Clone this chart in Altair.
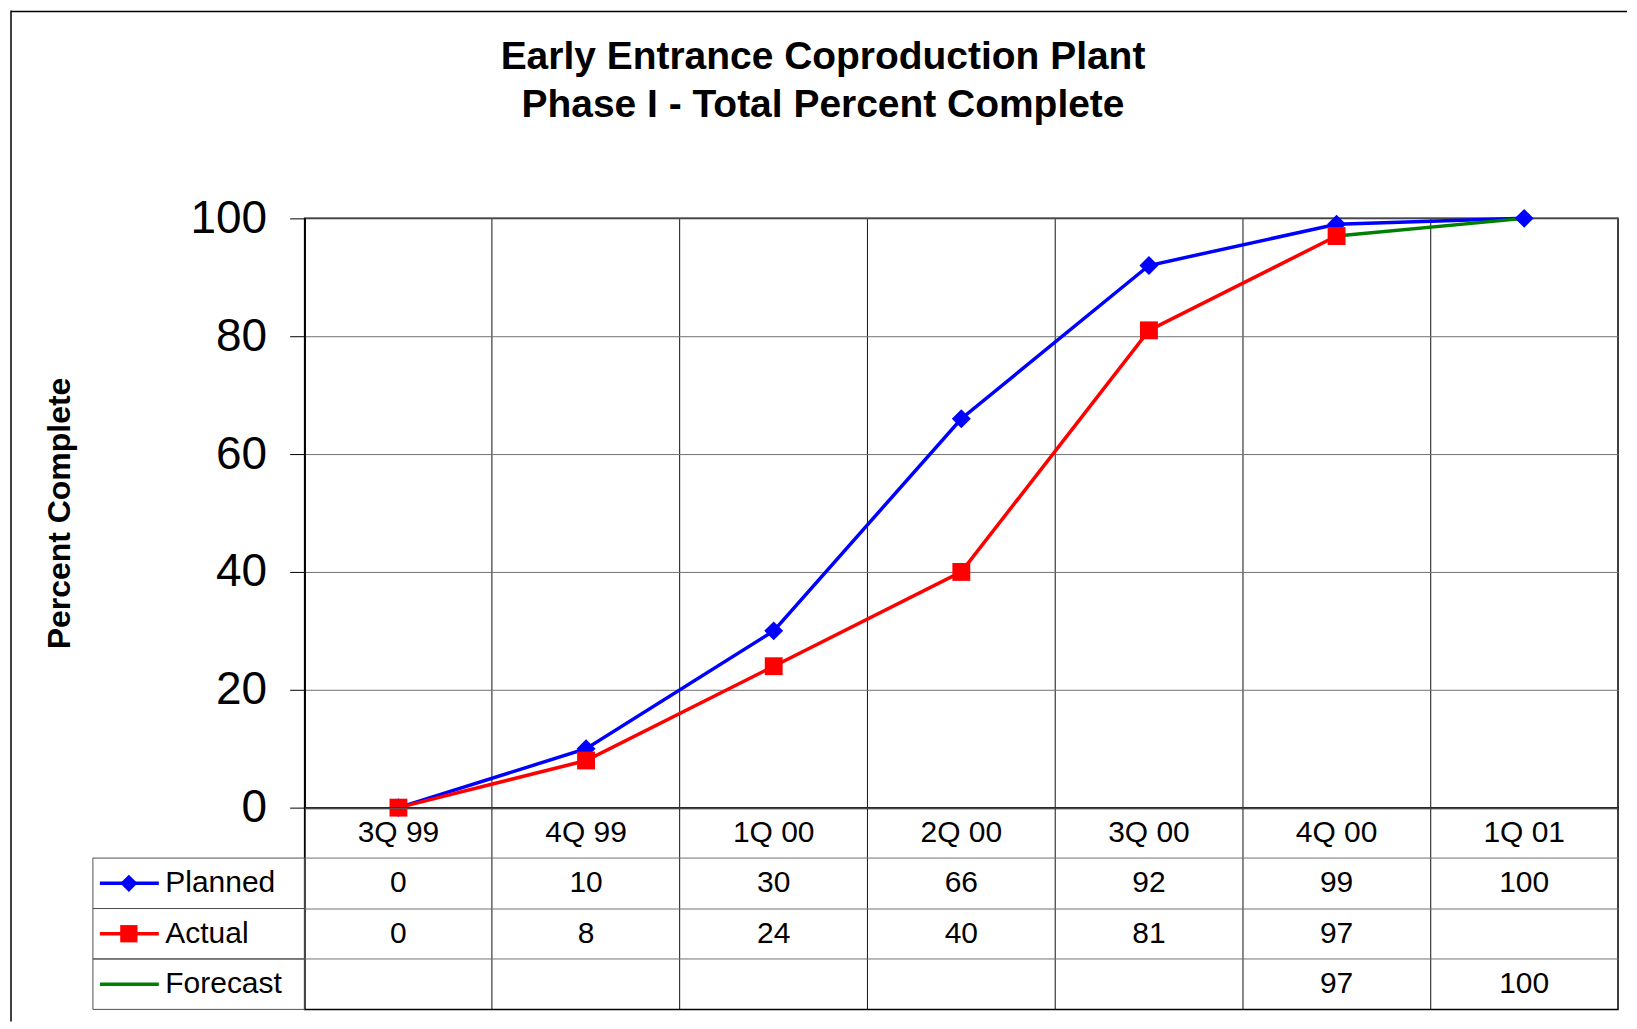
import altair as alt
import pandas as pd

categories = ["3Q 99", "4Q 99", "1Q 00", "2Q 00", "3Q 00", "4Q 00", "1Q 01"]
planned = [0, 10, 30, 66, 92, 99, 100]
actual = [0, 8, 24, 40, 81, 97, None]
forecast = [None, None, None, None, None, 97, 100]
series_names = ["Planned", "Actual", "Forecast"]
series_colors = ["#0000FF", "#FF0000", "#008000"]
series_shapes = ["diamond", "square"]
y_ticks = [0, 20, 40, 60, 80, 100]
title_lines = ["Early Entrance Coproduction Plant", "Phase I - Total Percent Complete"]
y_title = "Percent Complete"

FONT = "Liberation Sans"

rows = []
for name, vals in zip(series_names, [planned, actual, forecast]):
    for c, v in zip(categories, vals):
        if v is not None:
            rows.append({"series": name, "quarter": c, "value": v})
df = pd.DataFrame(rows)

table_rows = []
for c in categories:
    table_rows.append({"row": "header", "quarter": c, "label": c})
for name, vals in zip(series_names, [planned, actual, forecast]):
    for c, v in zip(categories, vals):
        table_rows.append({"row": name, "quarter": c, "label": "" if v is None else str(v)})
tdf = pd.DataFrame(table_rows)
row_domain = ["header"] + series_names
legend_df = pd.DataFrame({"row": series_names})

W, H = 1315, 590
ROW_H = 202

color_scale = alt.Scale(domain=series_names, range=series_colors)
x_scale = alt.Scale(type="band", domain=categories, paddingInner=0, paddingOuter=0)
row_scale = alt.Scale(type="band", domain=row_domain, paddingInner=0, paddingOuter=0)

x_main = alt.X(
    "quarter:N", scale=x_scale, bandPosition=0.5,
    axis=alt.Axis(labels=False, ticks=False, title=None, grid=True, gridColor="#111111",
                  gridWidth=1, bandPosition=0, domainColor="black", domainWidth=2),
)
y_main = alt.Y(
    "value:Q", scale=alt.Scale(domain=[0, 100]),
    axis=alt.Axis(values=y_ticks, labelFontSize=46, labelFont=FONT, labelColor="black",
                  tickSize=15, tickColor="black", labelPadding=23, gridColor="#707070",
                  domainColor="black", domainWidth=1.5, title=y_title, titleFont=FONT,
                  titleFontSize=32, titleFontWeight="bold", titleColor="black",
                  titlePadding=114),
)

base = alt.Chart(df).encode(
    x=x_main, y=y_main,
    color=alt.Color("series:N", scale=color_scale, legend=None),
)
lines = base.mark_line(strokeWidth=3.5)
diamonds = base.transform_filter(alt.datum.series == "Planned").mark_point(
    shape="diamond", filled=True, size=360, opacity=1)
squares = base.transform_filter(alt.datum.series == "Actual").mark_point(
    shape="square", filled=True, size=320, opacity=1)

# outer frame of the figure (left and top edges)
frame_df = pd.DataFrame({"edge": ["left", "top"]})
frame_left = alt.Chart(frame_df).transform_filter(alt.datum.edge == "left").mark_rule(
    color="black", strokeWidth=1.5, clip=False).encode(
    x=alt.value(-294), y=alt.value(-208), y2=alt.value(804))
frame_top = alt.Chart(frame_df).transform_filter(alt.datum.edge == "top").mark_rule(
    color="black", strokeWidth=1.5, clip=False).encode(
    x=alt.value(-294), x2=alt.value(1324), y=alt.value(-207))

main = alt.layer(lines, diamonds, squares, frame_left, frame_top).properties(width=W, height=H)

x_tab = alt.X(
    "quarter:N", scale=x_scale, bandPosition=0.5,
    axis=alt.Axis(labels=False, ticks=False, title=None, domain=False, grid=True,
                  gridColor="#111111", bandPosition=0),
)
y_tab = alt.Y(
    "row:N", scale=row_scale, bandPosition=0.5,
    axis=alt.Axis(title=None, ticks=False, domain=False, grid=True, gridColor="#707070",
                  bandPosition=0, labelAlign="left", labelPadding=140,
                  labelFontSize=30, labelFont=FONT, labelColor="black", labelBaseline="middle",
                  labelExpr="datum.value == 'header' ? '' : datum.value"),
)
texts = alt.Chart(tdf).mark_text(fontSize=30, font=FONT, color="black").encode(
    x=x_tab, y=y_tab, text="label:N")

y_leg = alt.Y("row:N", scale=row_scale, bandPosition=0.5)
leg_cells = alt.Chart(legend_df).mark_rect(fillOpacity=0, stroke="#505050", strokeWidth=1,
                                           clip=False).encode(
    y=alt.Y("row:N", scale=row_scale), x=alt.value(-212), x2=alt.value(0))
leg_lines = alt.Chart(legend_df).mark_rule(strokeWidth=3.5, clip=False).encode(
    y=y_leg, x=alt.value(-205), x2=alt.value(-146),
    color=alt.Color("row:N", scale=color_scale, legend=None))
leg_marks = alt.Chart(legend_df).transform_filter(
    alt.FieldOneOfPredicate(field="row", oneOf=series_names[:2])
).mark_point(filled=True, size=300, opacity=1, clip=False).encode(
    y=y_leg, x=alt.value(-176),
    color=alt.Color("row:N", scale=color_scale, legend=None),
    shape=alt.Shape("row:N", scale=alt.Scale(domain=series_names[:2], range=series_shapes),
                    legend=None))

table = alt.layer(texts, leg_cells, leg_lines, leg_marks).properties(width=W, height=ROW_H)

chart = alt.vconcat(main, table, spacing=0, bounds="flush").properties(
    title=alt.TitleParams(title_lines, fontSize=39, font=FONT, fontWeight="bold",
                          anchor="middle", lineHeight=48, offset=-116, dx=4, color="black"),
    padding={"left": 1, "top": 0, "right": 0, "bottom": 0},
).resolve_scale(color="shared").configure_view(stroke="black", strokeWidth=1.5)

chart.save("out.html", embed_options={"renderer": "svg", "actions": False})
